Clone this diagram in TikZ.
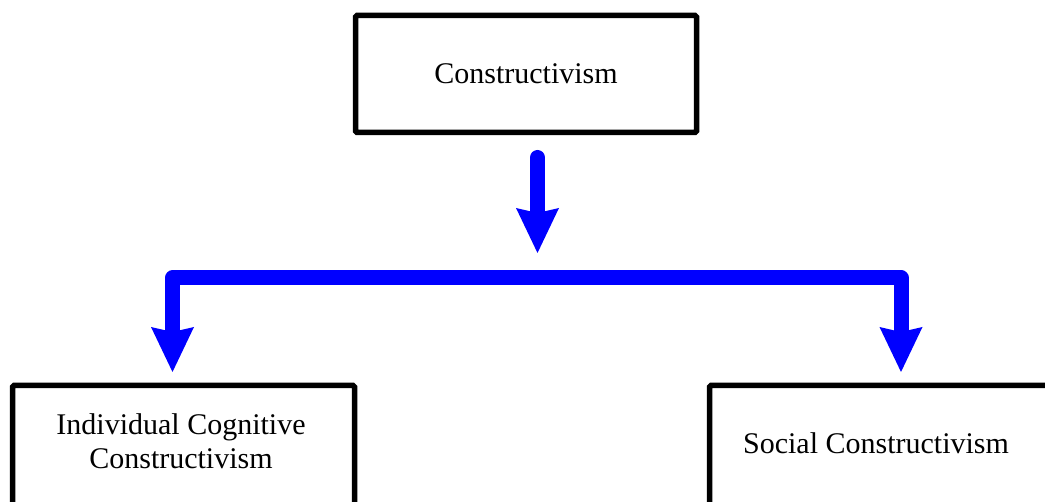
\documentclass[tikz,border=0pt]{standalone}
\usepackage{fontspec}
\setmainfont{Liberation Serif}
\usetikzlibrary{arrows.meta}
\definecolor{flowblue}{RGB}{0,0,255}
\begin{document}
\begin{tikzpicture}[x=1pt,y=-1pt,
  conceptbox/.style={draw=black, line width=5.5pt, rounded corners=1.5pt, inner sep=0pt},
  label text/.style={font=\fontsize{30}{34}\selectfont, align=center, inner sep=0pt},
  flow/.style={draw=flowblue, line width=15pt, line join=round,
    -{Stealth[length=45pt, width=43pt, inset=5pt, line width=0pt, round]}},
  flowstart/.style={draw=flowblue, line width=15pt, line cap=round}]
  \useasboundingbox (0,0) rectangle (1045,502);
  \fill[white] (0,0) rectangle (1045,502);

  % root concept
  \node[conceptbox, label text, minimum width=341pt, minimum height=117pt]
    (root) at (526,74) {Constructivism};

  % the two branches, cut by the page edge
  \begin{scope}
    \clip (0,0) rectangle (1045,502);
    \node[conceptbox, minimum width=342pt, minimum height=200pt] (indbox) at (183.5,485.5) {};
    \node[conceptbox, minimum width=400pt, minimum height=200pt] (socbox) at (909.5,485.5) {};
  \end{scope}
  \node[label text] (indtext) at (181,441) {Individual Cognitive\\Constructivism};
  \node[label text] (soctext) at (876,443) {Social Constructivism};

  % connector points
  \coordinate (down0) at (537.5,157.5);
  \coordinate (down1) at (537.5,253);
  \coordinate (split) at (537.5,278);
  \coordinate (lcorner) at (172.5,278);
  \coordinate (rcorner) at (901,278);
  \coordinate (ltip) at (172.5,372);
  \coordinate (rtip) at (901,372);

  \draw[flowstart] (down0) -- (537.5,215);
  \draw[flow] (down0) -- (down1);
  \draw[flow] (split) -- (lcorner) -- (ltip);
  \draw[flow] (split) -- (rcorner) -- (rtip);
\end{tikzpicture}
\end{document}
